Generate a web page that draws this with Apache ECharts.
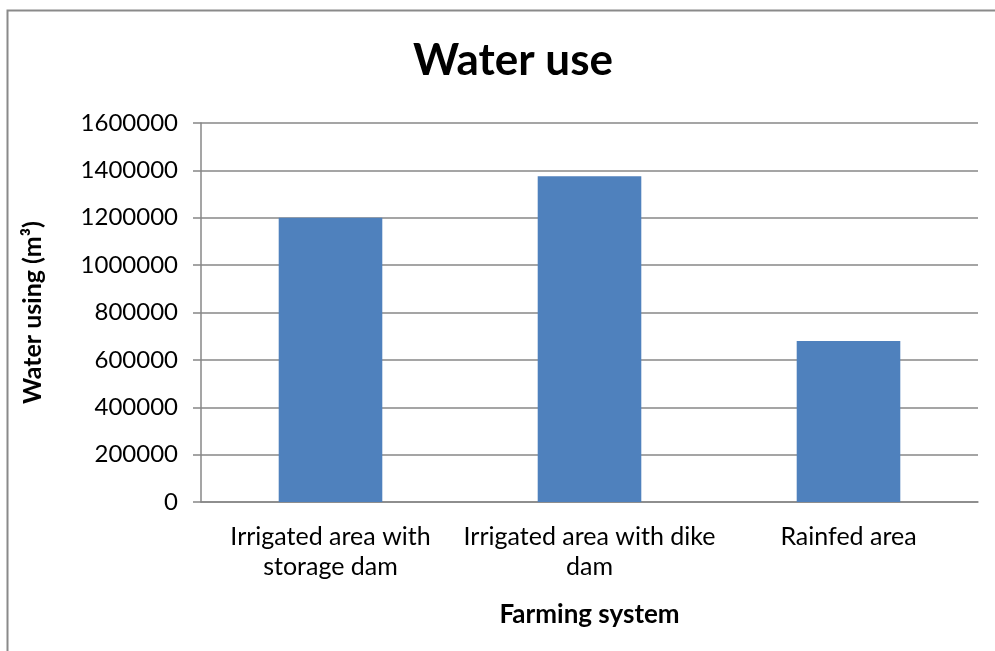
<!DOCTYPE html>
<html>
<head>
<meta charset="utf-8">
<script src="https://cdn.jsdelivr.net/npm/echarts@6/dist/echarts.min.js"></script>
<style>
  html, body { margin: 0; padding: 0; background: #fff; }
  #chart { width: 995px; height: 651px; }
</style>
</head>
<body>
<div id="chart"></div>
<script>
// Farming systems and their annual water use (m³)
const categories = [
  'Irrigated area with\nstorage dam',
  'Irrigated area with dike\ndam',
  'Rainfed area'
];
const waterUse = [1200000, 1375000, 680000];
const yTicks = { min: 0, max: 1600000, interval: 200000 };

const FONT = 'Lato, "Open Sans", sans-serif';
const GRID_COLOR = '#878787';

const chart = echarts.init(document.getElementById('chart'), null, { renderer: 'canvas' });
chart.setOption({
  animation: false,
  backgroundColor: '#ffffff',
  title: {
    text: 'Water use',
    left: 508,
    textAlign: 'center',
    top: 34,
    textStyle: { fontFamily: FONT, fontWeight: 'bold', fontSize: 44, color: '#000' }
  },
  graphic: [{
    type: 'polyline',
    shape: { points: [[7.5, 1000], [7.5, 10.5], [1400, 10.5]] },
    style: { fill: null, stroke: '#8a8a8a', lineWidth: 2 },
    silent: true
  }],
  grid: { left: 201, right: 17, top: 123, bottom: 149, containLabel: false },
  xAxis: {
    type: 'category',
    data: categories,
    name: 'Farming system',
    nameLocation: 'middle',
    nameGap: 100,
    nameTextStyle: { fontFamily: FONT, fontWeight: 'bold', fontSize: 26, color: '#000' },
    axisLine: { lineStyle: { color: GRID_COLOR, width: 1.5 } },
    axisTick: { show: false },
    axisLabel: { fontFamily: FONT, fontSize: 25, color: '#000', margin: 20, lineHeight: 30, interval: 0 }
  },
  yAxis: {
    type: 'value',
    min: yTicks.min,
    max: yTicks.max,
    interval: yTicks.interval,
    name: 'Water using (m³)',
    nameLocation: 'middle',
    nameRotate: 90,
    nameGap: 156,
    nameTextStyle: { fontFamily: FONT, fontWeight: 'bold', fontSize: 25, color: '#000' },
    axisLine: { show: true, lineStyle: { color: GRID_COLOR, width: 1.5 } },
    axisTick: { show: true, length: 8, lineStyle: { color: GRID_COLOR, width: 1.5 } },
    splitLine: { lineStyle: { color: GRID_COLOR, width: 1.5 } },
    axisLabel: {
      fontFamily: FONT, fontSize: 24, color: '#000', margin: 23,
      formatter: v => String(v)
    }
  },
  series: [{
    type: 'bar',
    data: waterUse,
    barWidth: '40%',
    itemStyle: { color: '#4F81BD' }
  }]
});
</script>
</body>
</html>
